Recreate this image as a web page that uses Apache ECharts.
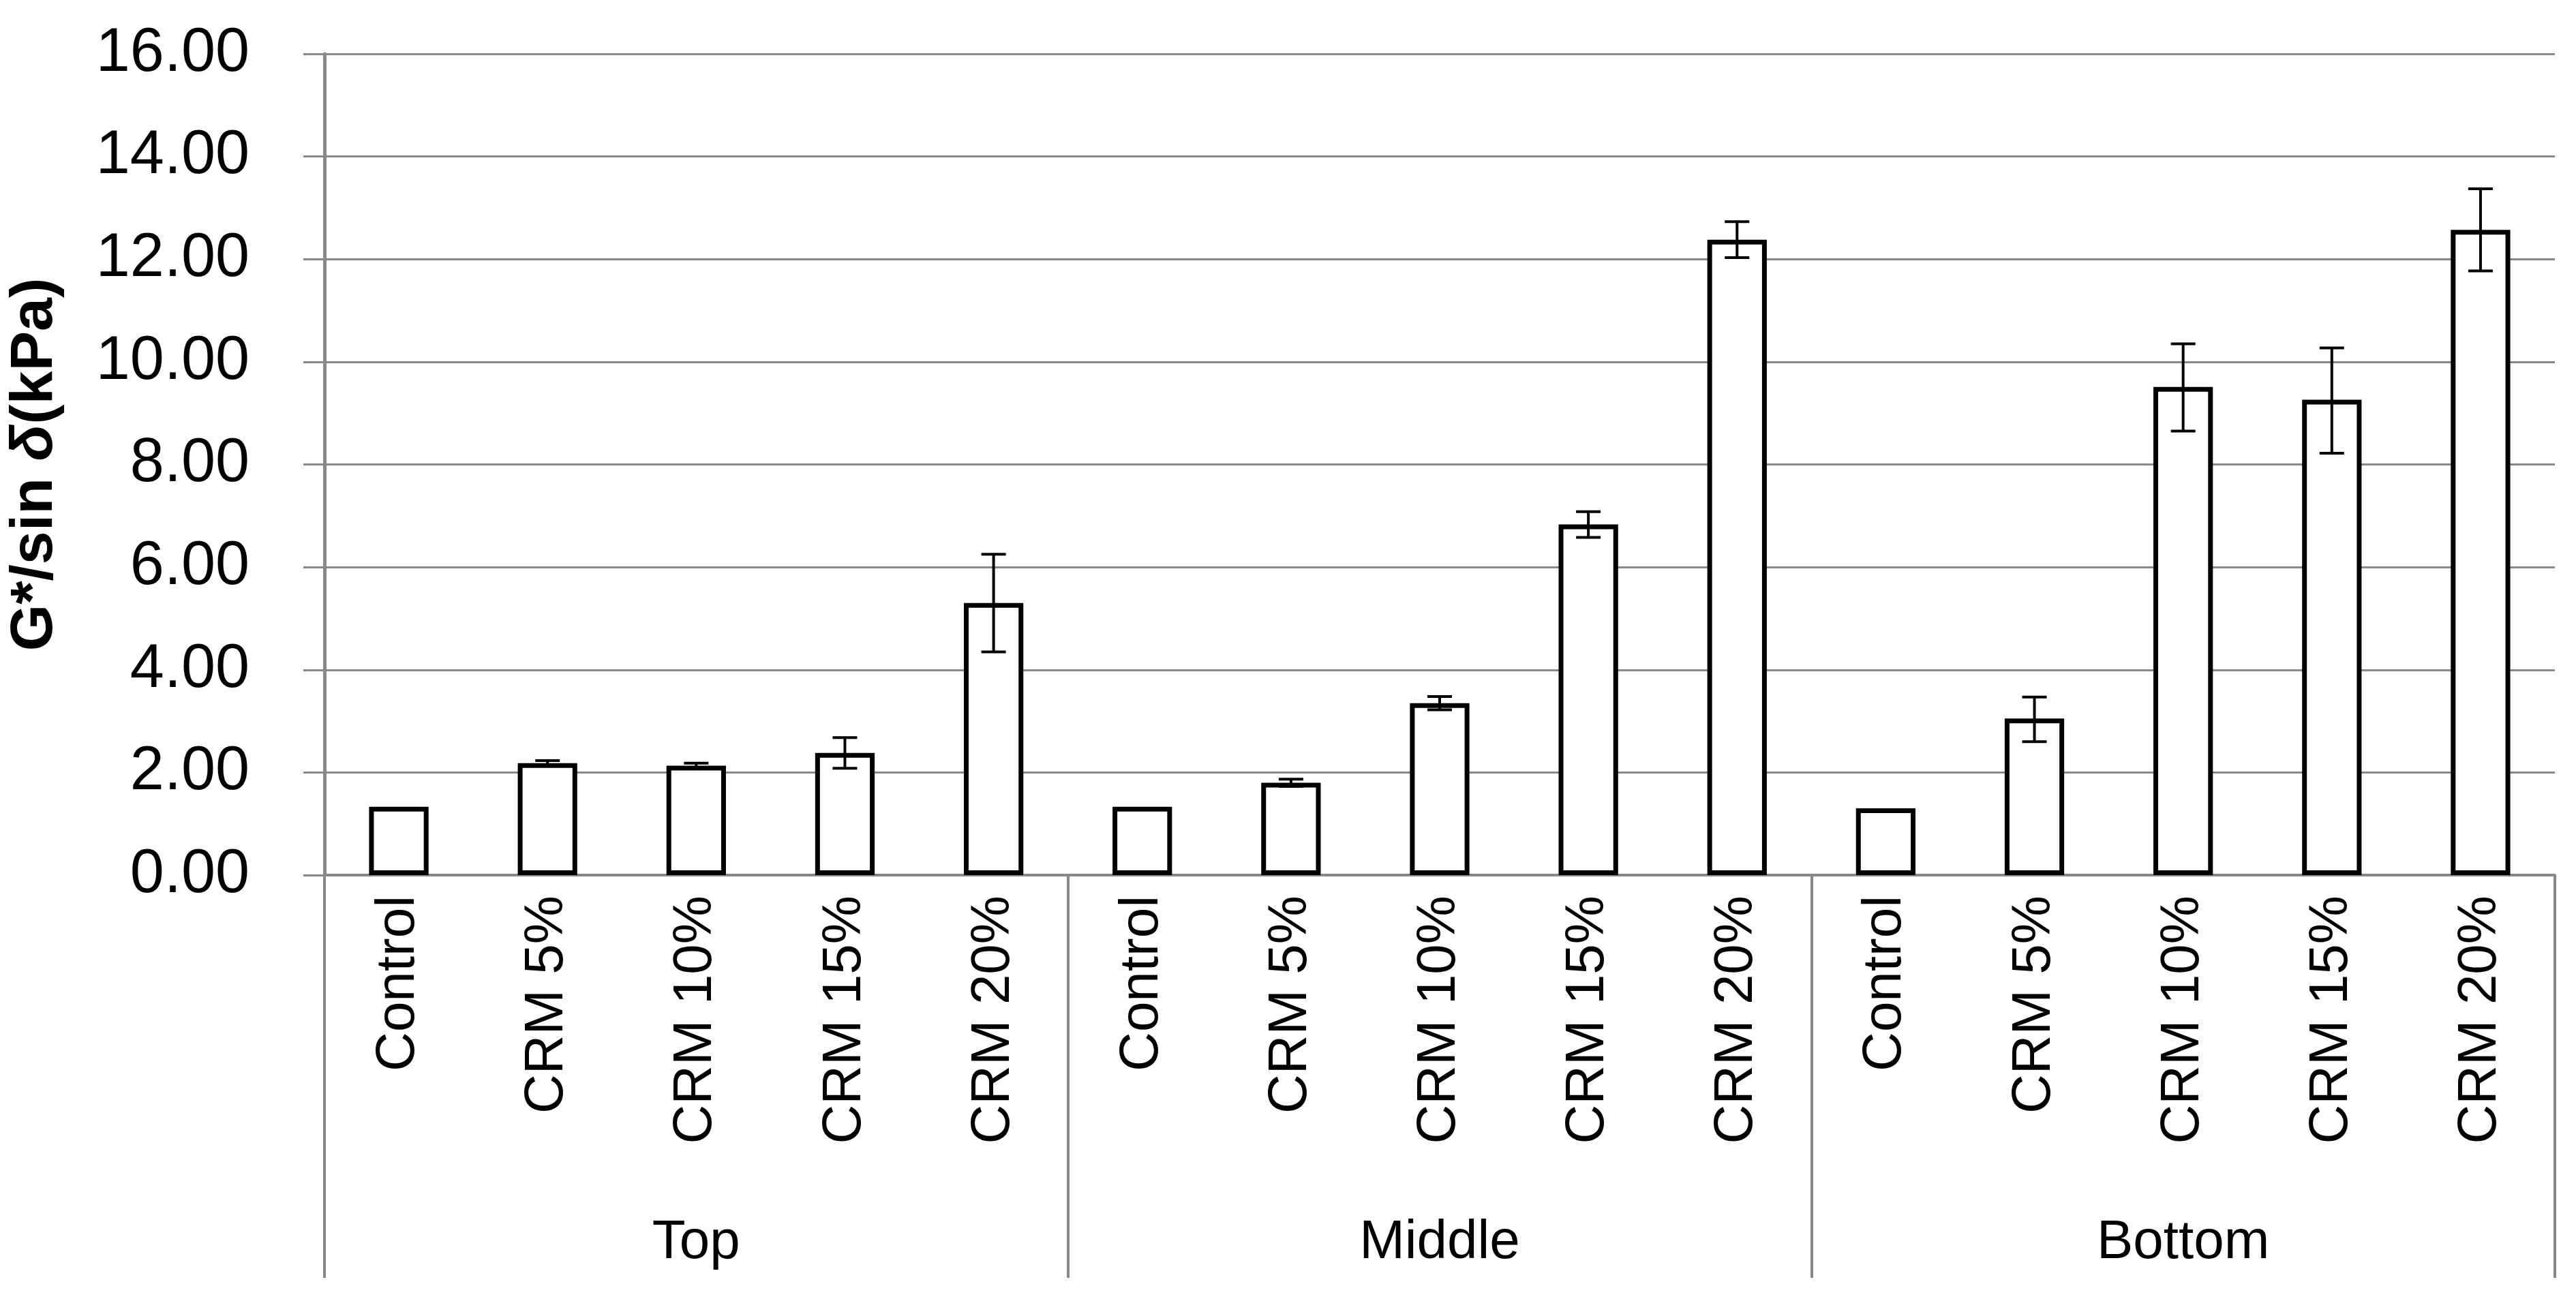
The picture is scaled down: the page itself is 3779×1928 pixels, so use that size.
<!DOCTYPE html>
<html>
<head>
<meta charset="utf-8">
<script src="https://cdn.jsdelivr.net/npm/echarts@6/dist/echarts.min.js"></script>
<style>html,body{margin:0;padding:0;background:#fff}#chart{width:3779px;height:1928px}</style>
</head>
<body>
<div id="chart"></div>
<script>
// 数据
var categories = ['Control', 'CRM 5%', 'CRM 10%', 'CRM 15%', 'CRM 20%',
                  'Control', 'CRM 5%', 'CRM 10%', 'CRM 15%', 'CRM 20%',
                  'Control', 'CRM 5%', 'CRM 10%', 'CRM 15%', 'CRM 20%'];
var groups = ['Top', 'Middle', 'Bottom'];
var values = [1.33, 2.18, 2.13, 2.38, 5.30,
              1.33, 1.80, 3.35, 6.83, 12.38,
              1.30, 3.05, 9.51, 9.26, 12.57];
var errLow = [1.33, 2.13, 2.08, 2.08, 4.35,
              1.33, 1.73, 3.22, 6.58, 12.03,
              1.30, 2.60, 8.65, 8.22, 11.77];
var errHigh = [1.33, 2.23, 2.18, 2.68, 6.25,
               1.33, 1.87, 3.48, 7.08, 12.73,
               1.30, 3.47, 10.35, 10.27, 13.37];

var myChart = echarts.init(document.getElementById('chart'));
var font = 'Liberation Sans';
var errData = values.map(function (v, i) { return [i, errLow[i], errHigh[i]]; });

var option = {
    animation: false,
    grid: { left: 458, right: 31, top: 79, bottom: 644 },
    xAxis: [{
        type: 'category',
        data: categories,
        axisLine: { lineStyle: { color: '#888', width: 4 } },
        axisTick: { show: false },
        axisLabel: { rotate: 90, margin: 30, color: '#000', fontSize: 80, fontFamily: font, interval: 0 }
    }, {
        type: 'category',
        data: groups,
        position: 'bottom',
        axisLine: { show: false },
        axisTick: { show: true, length: 591, interval: 0, lineStyle: { color: '#888', width: 4 } },
        axisLabel: { margin: 500, color: '#000', fontSize: 80, fontFamily: font }
    }],
    yAxis: {
        type: 'value',
        min: 0, max: 16, interval: 2,
        name: '{b|G*/sin }{i|δ}{b|(kPa)}',
        nameLocation: 'middle',
        nameGap: 380,
        nameRotate: 90,
        nameTextStyle: {
            rich: {
                b: { fontSize: 88, fontWeight: 'bold', fontFamily: font, color: '#000' },
                i: { fontSize: 88, fontWeight: 'bold', fontStyle: 'italic', fontFamily: font, color: '#000' }
            }
        },
        axisLine: { show: true, lineStyle: { color: '#888', width: 5 } },
        axisTick: { show: true, length: 31, lineStyle: { color: '#888', width: 3 } },
        axisLabel: { margin: 110, color: '#000', fontSize: 90, fontFamily: font,
            formatter: function (v) { return v.toFixed(2); } },
        splitLine: { lineStyle: { color: '#888', width: 3 } }
    },
    series: [{
        type: 'bar',
        data: values,
        barWidth: '40%',
        itemStyle: { color: '#fff', borderColor: '#000', borderWidth: 7 },
        z: 2
    }, {
        type: 'custom',
        data: errData,
        z: 3,
        renderItem: function (params, api) {
            var x = api.value(0);
            var lo = api.coord([x, api.value(1)]);
            var hi = api.coord([x, api.value(2)]);
            if (Math.abs(lo[1] - hi[1]) < 1) return null;
            var hw = 18;
            var st = { stroke: '#000', lineWidth: 4 };
            return {
                type: 'group',
                children: [
                    { type: 'line', shape: { x1: hi[0], y1: hi[1], x2: lo[0], y2: lo[1] }, style: st },
                    { type: 'line', shape: { x1: hi[0] - hw, y1: hi[1], x2: hi[0] + hw, y2: hi[1] }, style: st },
                    { type: 'line', shape: { x1: lo[0] - hw, y1: lo[1], x2: lo[0] + hw, y2: lo[1] }, style: st }
                ]
            };
        }
    }]
};
myChart.setOption(option);
</script>
</body>
</html>
